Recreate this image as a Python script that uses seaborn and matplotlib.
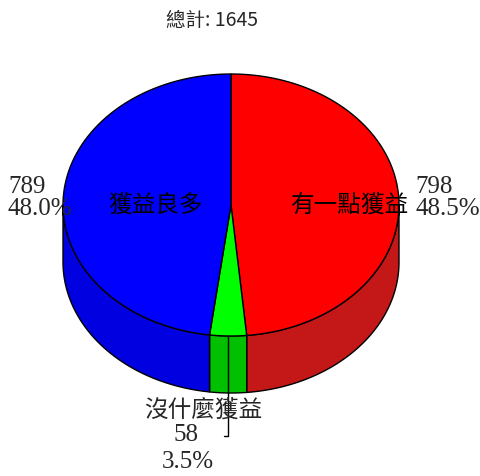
import numpy as np
import matplotlib
matplotlib.use("Agg")
import matplotlib.pyplot as plt
from matplotlib.patches import Polygon
import seaborn as sns

# Survey answers and their counts
categories = ["有一點獲益", "沒什麼獲益", "獲益良多"]
counts = [798, 58, 789]
title_prefix = "總計"

top_colors = ["#FF0000", "#00FF00", "#0000FF"]
side_colors = ["#C41818", "#00C000", "#0000E0"]

sns.set_theme(style="white")
plt.rcParams["font.family"] = ["Noto Sans CJK TC", "DejaVu Sans"]

W, H = 480, 477
fig = plt.figure(figsize=(W / 100, H / 100), dpi=100)
ax = fig.add_axes([0, 0, 1, 1])
ax.set_xlim(0, W)
ax.set_ylim(H, 0)
ax.axis("off")

# pie geometry (pixel space of the axes)
cx, cy, rx, ry, depth = 231, 206, 168, 131, 57

total = sum(counts)
fracs = np.array(counts, dtype=float) / total
bounds = np.concatenate([[0.0], np.cumsum(fracs)]) * 360.0  # clockwise from 12 o'clock


def rim(theta, dy=0.0):
    t = np.radians(theta)
    return cx + rx * np.sin(t), cy - ry * np.cos(t) + dy


def arc(a, b, dy=0.0, n=120):
    th = np.linspace(a, b, n)
    xs, ys = rim(th, dy)
    return np.column_stack([xs, ys])


# side walls (only the front half is visible)
for i in range(len(counts)):
    a, b = max(bounds[i], 90.0), min(bounds[i + 1], 270.0)
    if a < b:
        verts = np.vstack([arc(a, b), arc(b, a, depth)])
        ax.add_patch(Polygon(verts, closed=True, facecolor=side_colors[i],
                             edgecolor="black", linewidth=1.0, zorder=2))

# top faces
for i in range(len(counts)):
    verts = np.vstack([[cx, cy], arc(bounds[i], bounds[i + 1])])
    ax.add_patch(Polygon(verts, closed=True, facecolor=top_colors[i],
                         edgecolor="black", linewidth=1.0, zorder=3))

mids = (bounds[:-1] + bounds[1:]) / 2

# category names on the faces
cjk = ["Noto Sans CJK TC", "DejaVu Sans"]
num_font = ["Liberation Serif", "Noto Sans CJK TC"]
inner_r = {0: 0.71, 2: 0.45}
for i, r in inner_r.items():
    t = np.radians(mids[i])
    x = cx + rx * r * np.sin(t)
    ax.text(x, 205, categories[i], ha="center", va="center", fontsize=17,
            family=cjk, fontweight="light", color="black", zorder=5)

pct = [f"{c}\n{f * 100:.1f}%" for c, f in zip(counts, fracs)]

# value labels beside the pie
ax.text(415, 198, pct[0], ha="left", va="center", fontsize=18,
        family=num_font, linespacing=1.0, zorder=5)
ax.text(8, 198, pct[2], ha="left", va="center", fontsize=18,
        family=num_font, linespacing=1.0, zorder=5)

# small slice: leader line and label underneath
lx, ly = rim(mids[1])
ax.plot([lx, lx, lx - 4], [ly, 437, 437], color="black", linewidth=1.0, zorder=4)
ax.text(203, 410, categories[1], ha="center", va="center", fontsize=17,
        family=cjk, fontweight="light", zorder=5)
ax.text(186, 435, f"{counts[1]}", ha="center", va="center", fontsize=18,
        family=num_font, zorder=5)
ax.text(188, 462, f"{fracs[1] * 100:.1f}%", ha="center", va="center", fontsize=18,
        family=num_font, zorder=5)

ax.text(212, 21, f"{title_prefix}: {total}", ha="center", va="center",
        fontsize=14, family=cjk, zorder=5)

fig.savefig("out.png", dpi=100)
